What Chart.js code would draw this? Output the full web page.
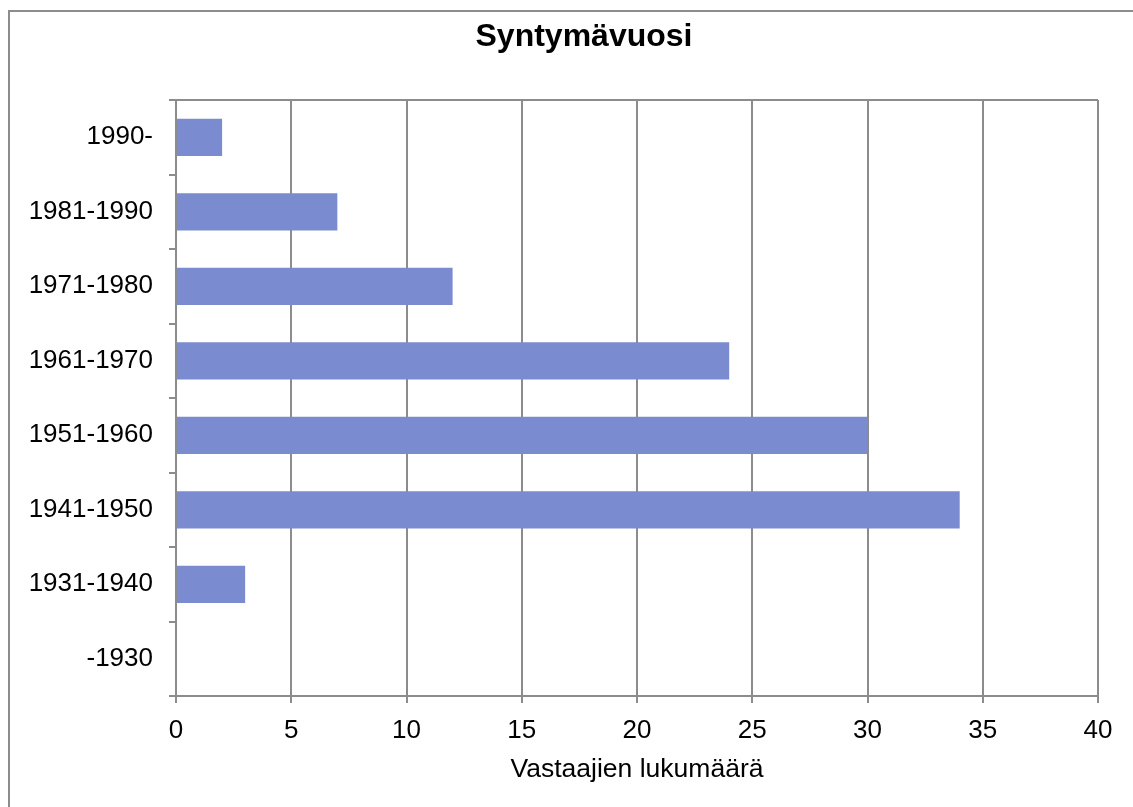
<!DOCTYPE html>
<html>
<head>
<meta charset="utf-8">
<title>Syntymävuosi</title>
<script src="https://cdn.jsdelivr.net/npm/chart.js@4/dist/chart.umd.min.js"></script>
<style>
  body { margin: 0; background: #fff; }
  canvas { display: block; }
</style>
</head>
<body>
<canvas id="chart" width="1133" height="807"></canvas>
<script>
// Data
const categories = ['1990-', '1981-1990', '1971-1980', '1961-1970', '1951-1960', '1941-1950', '1931-1940', '-1930'];
const counts = [2, 7, 12, 24, 30, 34, 3, 0];
const xTicks = [0, 5, 10, 15, 20, 25, 30, 35, 40];

const gridColor = '#8c8c8c';
const font = 'Arial, "Liberation Sans", sans-serif';

// frame around the whole chart + top edge of plot area, title re-centred
const framePlugin = {
  id: 'frame',
  afterLayout(chart) {
    if (chart.titleBlock) {
      chart.titleBlock.left = 35;
      chart.titleBlock.right = chart.width;
    }
  },
  afterDraw(chart) {
    const { ctx, chartArea: a } = chart;
    ctx.save();
    ctx.strokeStyle = gridColor;
    ctx.lineWidth = 2;
    ctx.beginPath();
    ctx.moveTo(9, chart.height);
    ctx.lineTo(9, 11);
    ctx.lineTo(chart.width, 11);
    ctx.stroke();
    ctx.beginPath();
    ctx.moveTo(a.left - 7, a.top);
    ctx.lineTo(a.right, a.top);
    ctx.stroke();
    ctx.restore();
  }
};

new Chart(document.getElementById('chart'), {
  type: 'bar',
  data: {
    labels: categories,
    datasets: [{
      data: counts,
      backgroundColor: '#7b8bd0',
      barPercentage: 0.5,
      categoryPercentage: 1
    }]
  },
  options: {
    indexAxis: 'y',
    responsive: false,
    animation: false,
    layout: { padding: { left: 0, right: 35, top: 0, bottom: 0 } },
    plugins: {
      legend: { display: false },
      tooltip: { enabled: false },
      title: {
        display: true,
        text: 'Syntymävuosi',
        color: '#000',
        font: { family: font, size: 32, weight: 'bold', lineHeight: 1.2 },
        padding: { top: 18, bottom: 43.6 }
      }
    },
    scales: {
      x: {
        min: 0,
        max: 40,
        afterBuildTicks: s => { s.ticks = xTicks.map(v => ({ value: v })); },
        afterFit: s => { s.height = 111; },
        grid: { color: gridColor, lineWidth: 2, tickLength: 7 },
        border: { color: gridColor, width: 2 },
        ticks: { color: '#000', font: { family: font, size: 26 }, padding: 12 },
        title: {
          display: true,
          text: 'Vastaajien lukumäärä',
          color: '#000',
          font: { family: font, size: 26.5, lineHeight: 1.2 },
          padding: { top: 0, bottom: 21 }
        }
      },
      y: {
        afterFit: s => { s.width = 176; },
        grid: { color: gridColor, lineWidth: 2, tickLength: 7, drawOnChartArea: false, offset: true },
        border: { color: gridColor, width: 2 },
        ticks: { color: '#000', font: { family: font, size: 26 }, padding: 16 }
      }
    }
  },
  plugins: [framePlugin]
});
</script>
</body>
</html>
